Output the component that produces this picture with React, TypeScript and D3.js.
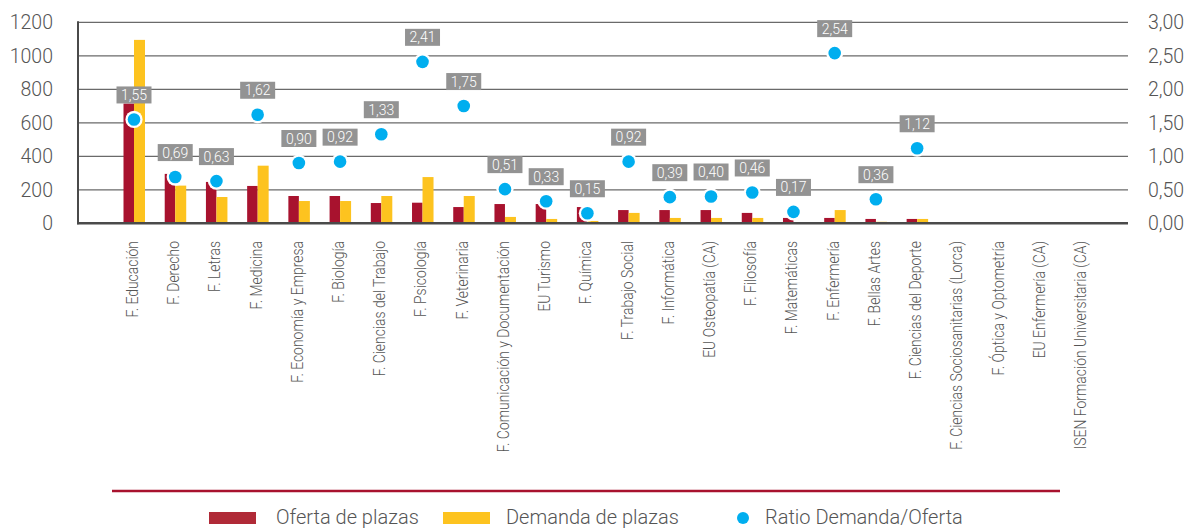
import React from "react";
import * as d3 from "d3";

const categories = [
  "F. Educación", "F. Derecho", "F. Letras", "F. Medicina", "F. Economía y Empresa",
  "F. Biología", "F. Ciencias del Trabajo", "F. Psicología", "F. Veterinaria",
  "F. Comunicación y Documentación", "EU Turismo", "F. Química", "F. Trabajo Social",
  "F. Informática", "EU Osteopatía (CA)", "F. Filosofía", "F. Matemáticas",
  "F. Enfermería", "F. Bellas Artes", "F. Ciencias del Deporte",
  "F. Ciencias Sociosanitarias (Lorca)", "F. Óptica y Optometría",
  "EU Enfermería (CA)", "ISEN Formación Universitaria (CA)",
];
const oferta = [715, 295, 247, 223, 163, 163, 121, 123, 97, 115, 115, 97, 79, 79, 79, 62, 32, 32, 26, 26, 0, 0, 0, 0];
const demanda = [1095, 225, 157, 344, 133, 133, 163, 276, 163, 38, 26, 14, 62, 32, 32, 32, 5, 79, 9, 26, 0, 0, 0, 0];
const ratio: (number | null)[] = [1.55, 0.69, 0.63, 1.62, 0.9, 0.92, 1.33, 2.41, 1.75, 0.51, 0.33, 0.15, 0.92, 0.39, 0.4, 0.46, 0.17, 2.54, 0.36, 1.12, null, null, null, null];
const leftTicks = [0, 200, 400, 600, 800, 1000, 1200];
const rightTicks = [0, 0.5, 1, 1.5, 2, 2.5, 3];
const legendLabels = ["Oferta de plazas", "Demanda de plazas", "Ratio Demanda/Oferta"];

const RED = "#a8122e";
const RED_LEG = "#b02a37";
const YELLOW = "#fdc31f";
const BLUE = "#00aeef";
const TXT = "#555";
const FONT = "Roboto, 'Liberation Sans', sans-serif";

export default function App() {
  const W = 1196, H = 528;
  const x0 = 78, x1 = 1128, yTop = 22.3, yBot = 223.3;
  const x = d3.scalePoint<string>().domain(categories).range([134, 1082]);
  const yL = d3.scaleLinear().domain([0, 1200]).range([yBot, yTop]);
  const yR = d3.scaleLinear().domain([0, 3]).range([yBot, yTop]);
  const bw = 10.5;
  const fmt = (v: number) => d3.format(".2f")(v).replace(".", ",");

  return (
    <div style={{ position: "absolute", left: 0, top: 0 }}>
      <svg width={W} height={H} style={{ display: "block", fontFamily: FONT }}>
        <rect width={W} height={H} fill="#fff" />
        {/* gridlines */}
        {leftTicks.slice(1).map((t) => (
          <line key={t} x1={x0} x2={x1} y1={yL(t)} y2={yL(t)} stroke="#6a6a6a" strokeWidth={1.3} />
        ))}
        {/* bars */}
        {categories.map((c, i) => (
          <g key={c}>
            <rect x={x(c)! - bw} y={yL(oferta[i])} width={bw} height={yBot - yL(oferta[i])} fill={RED} />
            <rect x={x(c)!} y={yL(demanda[i])} width={bw + 0.5} height={yBot - yL(demanda[i])} fill={YELLOW} />
          </g>
        ))}
        {/* axes */}
        <line x1={x0} x2={x0} y1={yTop - 1} y2={yBot + 1} stroke="#4a4a4a" strokeWidth={2} />
        <line x1={x0 - 1} x2={x1} y1={yBot} y2={yBot} stroke="#4a4a4a" strokeWidth={2.6} />
        {leftTicks.map((t) => (
          <text key={t} x={53} y={yL(t)} dy="0.35em" textAnchor="end" fontSize={19.5} fill={TXT} fontWeight={300}>
            {t}
          </text>
        ))}
        {rightTicks.map((t) => (
          <text key={t} x={1148} y={yR(t)} dy="0.35em" textAnchor="start" fontSize={19.5} fill={TXT} fontWeight={300}>
            {fmt(t)}
          </text>
        ))}
        {/* category labels */}
        {categories.map((c) => (
          <text key={c} transform={`translate(${x(c)! - 2},241) rotate(-90) scale(0.82,1)`} dy="0.35em" textAnchor="end" fontSize={17} fill={TXT} fontWeight={300}>
            {c}
          </text>
        ))}
        {/* ratio dots */}
        {categories.map((c, i) =>
          ratio[i] == null ? null : (
            <g key={c}>
              <circle cx={x(c)!} cy={yR(ratio[i]!)} r={8.6} fill="#fff" />
              <circle cx={x(c)!} cy={yR(ratio[i]!)} r={6.3} fill={BLUE} />
            </g>
          )
        )}
        {/* ratio labels */}
        {categories.map((c, i) => {
          if (ratio[i] == null) return null;
          const cy = yR(ratio[i]!);
          const bh = 17, bwid = 35;
          const top = cy - 16 - bh;
          return (
            <g key={c}>
              <rect x={x(c)! - bwid / 2} y={top} width={bwid} height={bh} fill="#939393" />
              <text x={x(c)!} y={top + bh / 2} dy="0.36em" textAnchor="middle" fontSize={14} fill="#fff" fontWeight={300}>
                {fmt(ratio[i]!)}
              </text>
            </g>
          );
        })}
        {/* legend */}
        <line x1={112} x2={1060} y1={491} y2={491} stroke={RED} strokeWidth={2.5} />
        <rect x={209} y={512} width={47} height={12} fill={RED_LEG} />
        <text x={276} y={523.5} fontSize={20} fill={TXT} fontWeight={300}>{legendLabels[0]}</text>
        <rect x={443} y={512} width={47} height={12} fill={YELLOW} />
        <text x={506} y={523.5} fontSize={20} fill={TXT} fontWeight={300}>{legendLabels[1]}</text>
        <circle cx={743} cy={518} r={6} fill={BLUE} />
        <text x={765} y={523.5} fontSize={20} fill={TXT} fontWeight={300}>{legendLabels[2]}</text>
      </svg>
    </div>
  );
}
